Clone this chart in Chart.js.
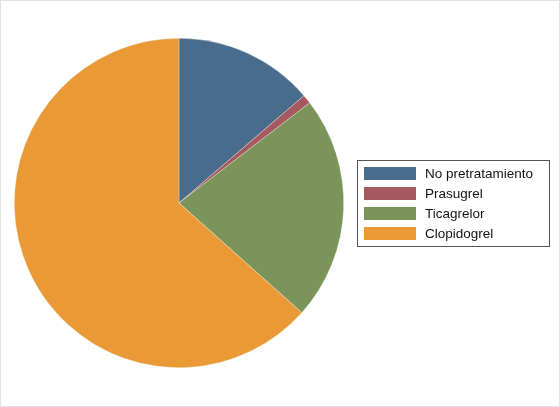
<!DOCTYPE html>
<html>
<head>
<meta charset="utf-8">
<script src="https://cdn.jsdelivr.net/npm/chart.js@4/dist/chart.umd.min.js"></script>
<style>
  html, body { margin: 0; padding: 0; background: #fff; }
  #wrap { width: 560px; height: 407px; position: relative; }
</style>
</head>
<body>
<div id="wrap"><canvas id="pie" width="560" height="407"></canvas></div>
<script>
// categories and shares (%)
const labels = ["No pretratamiento", "Prasugrel", "Ticagrelor", "Clopidogrel"];
const shares = [13.7, 0.9, 22.0, 63.4];
const colors = ["#496b8c", "#a65a5f", "#7a9459", "#e99a36"];

// boxed legend to the right of the pie, drawn on the canvas
const boxLegend = {
    id: 'boxLegend',
    afterDraw(chart) {
        const ctx = chart.ctx;
        ctx.save();
        // faint frame round the picture
        ctx.strokeStyle = '#e2e2e2';
        ctx.lineWidth = 1;
        ctx.strokeRect(0.5, 0.5, chart.width - 1, chart.height - 1);

        const x = 357, y = 160, w = 192, h = 86;
        ctx.fillStyle = '#fff';
        ctx.fillRect(x, y, w, h);
        ctx.strokeStyle = '#555';
        ctx.strokeRect(x + 0.5, y + 0.5, w, h);

        ctx.font = '13.5px "Liberation Sans", Arial, sans-serif';
        ctx.textBaseline = 'middle';
        chart.data.labels.forEach((lab, i) => {
            const cy = 173.5 + i * 20;
            ctx.fillStyle = chart.data.datasets[0].backgroundColor[i];
            ctx.fillRect(364, cy - 6.5, 52, 13);
            ctx.fillStyle = '#111';
            ctx.fillText(lab, 425, cy + 1);
        });
        ctx.restore();
    }
};

new Chart(document.getElementById('pie'), {
    type: 'pie',
    data: {
        labels: labels,
        datasets: [{
            data: shares,
            backgroundColor: colors,
            borderColor: 'rgba(255,255,255,0.5)',
            borderWidth: 0.6
        }]
    },
    options: {
        responsive: false,
        animation: false,
        layout: { padding: { left: 14, right: 216, top: 38, bottom: 39 } },
        plugins: {
            legend: { display: false },
            tooltip: { enabled: false }
        }
    },
    plugins: [boxLegend]
});
</script>
</body>
</html>
